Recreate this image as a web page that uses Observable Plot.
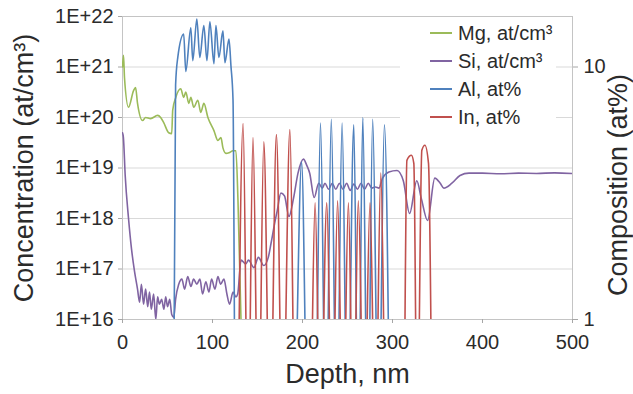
<!DOCTYPE html>
<html>
<head>
<meta charset="utf-8">
<script src="https://cdn.jsdelivr.net/npm/d3@7"></script>
<script src="https://cdn.jsdelivr.net/npm/@observablehq/plot@0.6"></script>
<style>
  html, body { margin: 0; padding: 0; background: #fff; }
  body { font-family: "Liberation Sans", Arial, sans-serif; color: #2b2b2b; }
  #wrap { position: relative; width: 633px; height: 394px; }
  #legend { position: absolute; left: 400px; top: 17px; width: 156px; height: 112px; background: #fff; }
  .row { position: absolute; left: 0; height: 24px; display: flex; align-items: center; font-size: 20px; white-space: nowrap; }
  .row svg { margin-left: 30px; margin-right: 6px; }
</style>
</head>
<body>
<div id="wrap"><div id="chart"></div><div id="legend"></div></div>
<script>
// ---- Data ----
const seriesNames = ["Mg, at/cm³", "Si, at/cm³", "Al, at%", "In, at%"];
const seriesColors = ["#9bbb59", "#8064a2", "#4f81bd", "#c0504d"];

// Mg concentration (at/cm3), left axis
const mgDepth = [0, 1.1, 2.2, 6.7, 12.3, 14.5, 16.7, 22.3, 25.7, 31.3, 39, 42.4, 45.8, 51.3, 54.7, 55.8, 59.2, 64.7, 68, 70.3, 73.7, 75.9, 79.2, 83.7, 87, 90.4, 94.9, 101.6, 106, 109.4, 111.6, 115, 118.3, 122.8, 126, 128.3, 131.7];
const mgConc = [1.0e21, 1.7e21, 6.2e20, 1.6e20, 3.4e20, 3.9e20, 1.9e20, 8.7e19, 1.0e20, 9.5e19, 1.1e20, 1.0e20, 7.9e19, 5.0e19, 4.8e19, 1.4e20, 2.5e20, 3.7e20, 2.5e20, 3.2e20, 1.9e20, 2.5e20, 1.6e20, 2.2e20, 1.26e20, 1.9e20, 1.0e20, 5.5e19, 3.5e19, 4.0e19, 2.5e19, 1.95e19, 2.0e19, 2.2e19, 2.2e19, 2.3e18, 9.5e15];

// Si concentration (at/cm3), left axis
const siDepth = [0, 1, 3, 6.7, 10, 13.4, 16.7, 19, 21, 23.4, 25.7, 28, 30, 32, 34.6, 37, 39, 41, 43.5, 46, 48, 50, 52.5, 54.7, 57, 59, 62.5, 66, 69, 72.5, 76, 79, 82.6, 86, 89, 92.6, 96, 99, 102.7, 106, 109, 112.7, 116, 119, 122.8, 126, 128, 131.7, 137, 140, 146, 151, 157, 162, 165, 169, 172, 176, 180, 185, 190, 195, 201, 205, 208, 213, 218, 222, 225, 229, 233, 237, 241, 245, 249, 253, 257, 261, 265, 269, 273, 277, 281, 285, 289, 296, 305, 312, 319, 327, 332, 339, 347, 353, 357, 366, 375, 385, 400, 420, 440, 460, 480, 500];
const siConc = [5.0e19, 4.0e19, 7.1e18, 1.0e18, 2.5e17, 8.9e16, 4.0e16, 2.2e16, 5.0e16, 2.0e16, 4.0e16, 1.8e16, 3.5e16, 1.6e16, 3.2e16, 1.0e16, 2.8e16, 2.0e16, 2.5e16, 1.6e16, 2.8e16, 1.8e16, 2.5e16, 1.26e16, 1.1e16, 2.5e16, 5.0e16, 6.3e16, 4.0e16, 7.1e16, 4.5e16, 6.3e16, 5.0e16, 6.3e16, 3.2e16, 5.6e16, 3.5e16, 6.3e16, 4.0e16, 7.1e16, 5.0e16, 6.3e16, 3.2e16, 2.0e16, 3.5e16, 2.8e16, 3.2e16, 1.5e17, 1.26e17, 1.5e17, 1.07e17, 1.7e17, 1.17e17, 1.7e17, 3.2e17, 7.9e17, 1.45e18, 3.2e18, 2.8e18, 1.1e18, 2.5e18, 7.9e18, 1.5e19, 1.1e19, 7.9e18, 2.6e18, 5.0e18, 4.0e18, 5.0e18, 3.8e18, 5.0e18, 3.8e18, 5.0e18, 3.8e18, 5.0e18, 3.6e18, 4.8e18, 3.8e18, 5.0e18, 3.8e18, 5.0e18, 4.0e18, 4.2e18, 4.0e18, 6.3e18, 8.3e18, 8.9e18, 5.6e18, 1.26e18, 5.6e18, 2.5e18, 9.1e17, 6.3e18, 5.0e18, 4.0e18, 5.0e18, 7.1e18, 7.9e18, 7.9e18, 7.7e18, 7.9e18, 7.8e18, 8.0e18, 7.8e18];

// Al composition (at%), right axis
const alDepth = [55, 56.5, 59, 61.4, 68, 70.3, 75.9, 78.1, 82.6, 85.9, 90.4, 93.8, 97.1, 101.6, 103.8, 107.1, 111.6, 113.8, 118.3, 120.5, 122.8, 125.5, 190, 199, 206, 214, 220, 226, 232, 238, 244, 250, 257, 262, 267, 272.5, 278, 284.5, 291, 297];
const alPct = [0.3, 0.3, 8.5, 10.9, 13.5, 9.6, 14.3, 10.6, 15.5, 10.9, 14.6, 10.6, 15.1, 10.3, 14.6, 10.9, 13.9, 10.4, 12.9, 10.1, 7.4, 0.3, 0.3, 4.2, 0.3, 0.3, 6.0, 0.3, 6.2, 0.3, 6.0, 0.3, 5.9, 0.3, 6.3, 0.3, 6.2, 0.3, 5.9, 0.3];

// In composition (at%), right axis
const inDepth = [128, 134, 139.5, 145, 151, 157, 164, 171, 178, 186, 192, 208, 214, 220, 227, 233, 239, 245, 251, 256.5, 262, 268.5, 275, 281, 287, 293, 312, 316, 321, 323.7, 327.5, 332.6, 336, 340, 344];
const inPct = [0.3, 5.97, 0.3, 5.25, 0.3, 5.06, 0.3, 5.4, 0.3, 5.65, 0.3, 0.3, 2.9, 0.3, 2.9, 0.3, 2.95, 0.3, 2.9, 0.3, 2.95, 0.3, 2.9, 0.3, 3.8, 0.3, 0.3, 4.27, 4.47, 4.15, 0.3, 4.68, 4.9, 4.15, 0.3];

// Axis ticks
const leftTicks = [1e16, 1e17, 1e18, 1e19, 1e20, 1e21, 1e22];
const rightTicks = [1, 10];
const xTicks = [0, 100, 200, 300, 400, 500];

// ---- Secondary axis mapping: 1 at% <-> 1E+16, 10 at% <-> 1E+21 ----
const toLeft = v => 1e16 * Math.pow(v, 5);

const mg = mgDepth.map((d, i) => ({depth: d, v: mgConc[i]}));
const si = siDepth.map((d, i) => ({depth: d, v: siConc[i]}));
const al = alDepth.map((d, i) => ({depth: d, v: toLeft(alPct[i])}));
const inn = inDepth.map((d, i) => ({depth: d, v: toLeft(inPct[i])}));

const font = "Liberation Sans, Arial, sans-serif";
const lineOpts = (color) => ({x: "depth", y: "v", stroke: color, strokeWidth: 1.6, curve: "monotone-x", clip: true});

const chart = Plot.plot({
  width: 633,
  height: 394,
  marginLeft: 122,
  marginRight: 61,
  marginTop: 16,
  marginBottom: 75,
  style: {fontFamily: font, background: "#fff", color: "#2b2b2b"},
  x: {domain: [0, 500]},
  y: {type: "log", domain: [1e16, 1e22]},
  marks: [
    Plot.gridY(leftTicks, {stroke: "#d9d9d9", strokeOpacity: 1}),
    Plot.frame({stroke: "#c4c4c4"}),
    Plot.line(mg, lineOpts(seriesColors[0])),
    Plot.line(si, lineOpts(seriesColors[1])),
    Plot.line(al, lineOpts(seriesColors[2])),
    Plot.line(inn, lineOpts(seriesColors[3])),
    Plot.axisY(leftTicks, {anchor: "left", tickFormat: d => "1E+" + Math.round(Math.log10(d)), fontSize: 20, tickSize: 4, tickPadding: 5, stroke: "#a6a6a6", label: null}),
    Plot.axisY(rightTicks.map(toLeft), {anchor: "right", tickFormat: d => String(Math.round(Math.pow(d / 1e16, 0.2))), fontSize: 20, tickSize: 5, tickPadding: 6, stroke: "#a6a6a6", label: null}),
    Plot.axisX(xTicks, {anchor: "bottom", fontSize: 20, tickSize: 4, tickPadding: 11, stroke: "#a6a6a6", label: null}),
    Plot.text(["Concentration (at/cm³)"], {frameAnchor: "left", textAnchor: "middle", lineAnchor: "middle", dx: -98, rotate: -90, fontSize: 27, fill: "#2b2b2b"}),
    Plot.text(["Composition (at%)"], {frameAnchor: "right", textAnchor: "middle", lineAnchor: "middle", dx: 46, dy: 17, rotate: -90, fontSize: 27, fill: "#2b2b2b"}),
    Plot.text(["Depth, nm"], {frameAnchor: "bottom", textAnchor: "middle", dy: 63, fontSize: 27, fill: "#2b2b2b"})
  ]
});
document.getElementById("chart").appendChild(chart);

// Legend (inside plot area, top right)
const legend = document.getElementById("legend");
seriesNames.forEach((name, i) => {
  const row = document.createElement("div");
  row.className = "row";
  row.style.top = (4 + i * 28) + "px";
  row.innerHTML = `<svg width="22" height="4"><line x1="0" y1="2" x2="22" y2="2" stroke="${seriesColors[i]}" stroke-width="2"/></svg><span></span>`;
  row.querySelector("span").textContent = name;
  legend.appendChild(row);
});
</script>
</body>
</html>
